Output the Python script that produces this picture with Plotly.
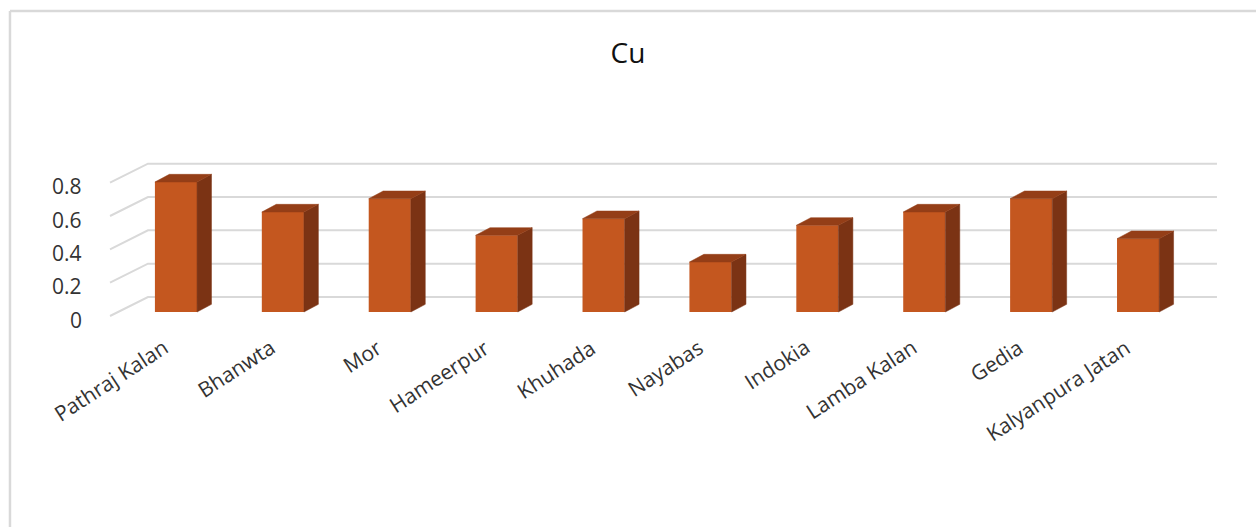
import plotly.graph_objects as go

# Copper (Cu) concentration by site
sites = ["Pathraj Kalan", "Bhanwta", "Mor", "Hameerpur", "Khuhada",
         "Nayabas", "Indokia", "Lamba Kalan", "Gedia", "Kalyanpura Jatan"]
cu = [0.78, 0.60, 0.68, 0.46, 0.56, 0.30, 0.52, 0.60, 0.68, 0.44]
y_ticks = [0, 0.2, 0.4, 0.6, 0.8]
y_tick_labels = ["0", "0.2", "0.4", "0.6", "0.8"]

# colours
FRONT = "#C4571F"
TOP = "#943E17"
SIDE = "#7B3314"
GRID = "#D9D9D9"
TEXT = "#333333"

# pseudo-3D geometry (category units on x, value units on y)
BAR_W = 0.394
HALF = BAR_W / 2
DX, DY = 0.135, 0.046             # bar depth offset
WALL_X0, WALL_X1 = -0.262, 9.738  # back wall extent
WALL_DY = 0.09                    # back wall lift
LEFT_X, LEFT_DY = -0.617, -0.024  # front end of side-wall gridlines

X_RANGE = [-1.272, 9.916]
Y_RANGE = [-0.168, 1.272]

fig = go.Figure()

# side-wall and back-wall gridlines (lower subplot layer)
for v in y_ticks:
    fig.add_trace(go.Scatter(
        x=[LEFT_X, WALL_X0, WALL_X1],
        y=[v + LEFT_DY, v + WALL_DY, v + WALL_DY],
        mode="lines", line=dict(color=GRID, width=2),
        hoverinfo="skip", showlegend=False))

# front faces of the columns (overlay layer, above the gridlines)
fig.add_trace(go.Bar(
    x=list(range(len(sites))), y=cu, width=BAR_W,
    marker=dict(color=FRONT, line=dict(width=0)),
    xaxis="x2", yaxis="y2", hoverinfo="skip", showlegend=False))

# side and top faces of each column
for i, v in enumerate(cu):
    xs = [i + HALF, i + HALF + DX, i + HALF + DX, i + HALF, i + HALF]
    ys = [0, DY, v + DY, v, 0]
    fig.add_trace(go.Scatter(
        x=xs, y=ys, mode="lines", fill="toself", fillcolor=SIDE,
        line=dict(color=SIDE, width=0.5), xaxis="x2", yaxis="y2",
        hoverinfo="skip", showlegend=False))
    xt = [i - HALF, i + HALF, i + HALF + DX, i - HALF + DX, i - HALF]
    yt = [v, v, v + DY, v + DY, v]
    fig.add_trace(go.Scatter(
        x=xt, y=yt, mode="lines", fill="toself", fillcolor=TOP,
        line=dict(color=TOP, width=0.5), xaxis="x2", yaxis="y2",
        hoverinfo="skip", showlegend=False))

annotations = []
# value labels on the side wall
for v, t in zip(y_ticks, y_tick_labels):
    annotations.append(dict(
        x=-0.86, y=v - 0.045, xref="x", yref="y", text=t, showarrow=False,
        xanchor="right", yanchor="middle",
        font=dict(family="Open Sans", size=21, color=TEXT)))
# slanted site labels
for i, s in enumerate(sites):
    annotations.append(dict(
        x=i + 0.0, y=-0.11, xref="x", yref="y", text=s, showarrow=False,
        xanchor="right", yanchor="top", textangle=-33,
        font=dict(family="Open Sans", size=21, color=TEXT)))

axis_common = dict(visible=False, fixedrange=True)
fig.update_layout(
    width=1256, height=527,
    margin=dict(l=40, r=20, t=100, b=187),
    paper_bgcolor="white", plot_bgcolor="white",
    title=dict(text="Cu", x=0.5, xanchor="center", y=1 - 53 / 527,
               yanchor="middle",
               font=dict(family="Open Sans", size=28, color="#111111")),
    xaxis=dict(range=X_RANGE, **axis_common),
    yaxis=dict(range=Y_RANGE, **axis_common),
    xaxis2=dict(range=X_RANGE, overlaying="x", **axis_common),
    yaxis2=dict(range=Y_RANGE, overlaying="y", **axis_common),
    annotations=annotations,
    hovermode=False,
    shapes=[
        dict(type="line", xref="paper", yref="paper",
             x0=-0.0251, x1=1.1, y0=1.371, y1=1.371,
             line=dict(color=GRID, width=2.5)),
        dict(type="line", xref="paper", yref="paper",
             x0=-0.0251, x1=-0.0251, y0=1.371, y1=-0.9,
             line=dict(color=GRID, width=2.5)),
    ],
)

fig.write_html("out.html")
